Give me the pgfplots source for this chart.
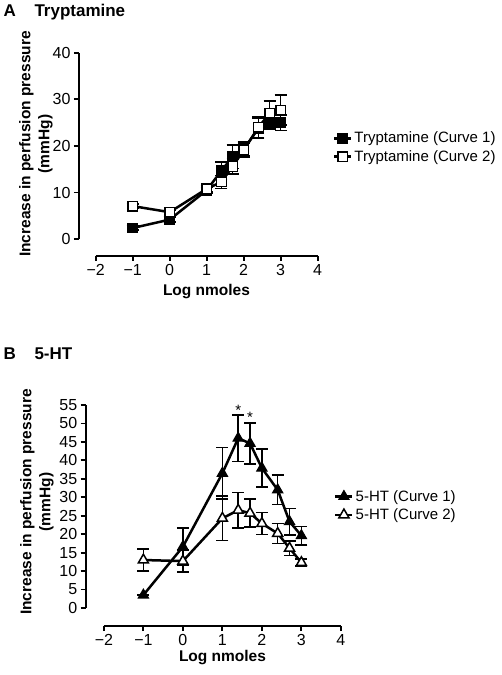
\documentclass[border=0pt]{standalone}
\usepackage{fontspec}
\setmainfont{Liberation Sans}
\usepackage{pgfplots}
\pgfplotsset{compat=1.18}
\begin{document}
\begin{tikzpicture}
\useasboundingbox (0pt,0pt) rectangle (502pt,675pt);
\pgfplotsset{
 gp/.style={
  scale only axis,
  axis x line*=bottom, axis y line*=left,
  tick align=outside,
  major tick length=5pt,
  every tick/.style={black, line width=1.8pt},
  tick label style={font=\fontsize{16}{16}\selectfont},
  /pgf/number format/assume math mode=true,
  xtick={-2,...,4},
  xticklabels={−2,−1,0,1,2,3,4},
  legend style={draw=none, fill=none, font=\fontsize{15}{15}\selectfont, row sep=2pt, anchor=north west},
  legend cell align=left,
  clip=false,
 },
 eb/.style={error bars/.cd, y dir=both, y explicit, error bar style={line width=1.6pt, black}, error mark options={rotate=90, mark size=6pt, line width=1.6pt, black}},
}
\node[anchor=west, font=\bfseries\fontsize{17}{17}\selectfont] at (0pt,663pt) {A\hspace{1.1em}Tryptamine};
\node[anchor=west, font=\bfseries\fontsize{17}{17}\selectfont] at (0pt,321pt) {B\hspace{1.1em}5-HT};
\node[rotate=90, align=center, font=\bfseries\fontsize{15.5}{19}\selectfont] at (36pt,531pt) {Increase in perfusion pressure\\(mmHg)};
\node[rotate=90, align=center, font=\bfseries\fontsize{15.5}{19}\selectfont] at (37pt,173pt) {Increase in perfusion pressure\\(mmHg)};
\node[font=\bfseries\fontsize{15.5}{15.5}\selectfont] at (206.5pt,383pt) {Log nmoles};
\node[font=\bfseries\fontsize{15.5}{15.5}\selectfont] at (222.5pt,17pt) {Log nmoles};

\begin{axis}[gp, at={(79pt,419pt)}, anchor=south west,
  width=238.7pt, height=203.3pt,
  xmin=-2.45, xmax=4, ymin=-3.6, ymax=40,
  ytick={0,10,...,40},
  x axis line style={-, line width=1.8pt, shorten <=16.7pt},
  y axis line style={-, line width=1.8pt, shorten <=16.8pt},
  legend style={at={(1.05,0.63)}},
]
\addplot[black, line width=2.5pt, mark=square*, mark size=4.8pt, mark options={solid, fill=black, line width=1.2pt}, eb]
 table[x=x, y=y, y error=e] {
x y e
-1 2.4 0.4
0 4.2 0.5
1 10.5 0.6
1.4 14.7 1.9
1.7 17.7 2.5
2 19.3 1.5
2.4 23.8 2.2
2.7 24.6 1.0
3 25.0 1.7
};
\addlegendentry{Tryptamine (Curve 1)}
\addplot[black, line width=2.5pt, mark=square*, mark size=4.8pt, mark options={solid, fill=white, line width=1.5pt}, eb]
 table[x=x, y=y, y error=e] {
x y e
-1 7.1 0.4
0 5.8 0.5
1 10.8 0.6
1.4 12.3 1.4
1.7 15.6 1.6
2 19.1 1.5
2.4 24.0 2.2
2.7 27.0 2.7
3 27.7 3.2
};
\addlegendentry{Tryptamine (Curve 2)}
\end{axis}

\begin{axis}[gp, at={(85.7pt,49pt)}, anchor=south west,
  width=255.2pt, height=221pt,
  xmin=-2.46, xmax=4, ymin=-4.88, ymax=55,
  ytick={0,5,...,55},
  x axis line style={-, line width=1.8pt, shorten <=18.2pt},
  y axis line style={-, line width=1.8pt, shorten <=18pt},
  legend style={at={(0.961,0.633)}},
]
\addplot[black, line width=2.5pt, mark=triangle*, mark size=5.8pt, mark options={solid, fill=black, line width=1.2pt}, eb]
 table[x=x, y=y, y error=e] {
x y e
-1 3.5 0
0 16.6 5
1 36.5 7
1.4 46.0 6.3
1.7 44.6 5.6
2 37.9 5.2
2.4 32.0 4
2.7 23.4 3.6
3 19.6 2.5
};
\addlegendentry{5-HT (Curve 1)}
\addplot[black, line width=2.5pt, mark=triangle*, mark size=5.8pt, mark options={solid, fill=white, line width=1.5pt}, eb]
 table[x=x, y=y, y error=e] {
x y e
-1 13.0 3.0
0 12.7 3.0
1 24.3 6.0
1.4 26.5 4.8
1.7 25.7 3.8
2 22.9 3.0
2.4 20.2 2.7
2.7 16.2 2.0
3 12.3 1.0
};
\addlegendentry{5-HT (Curve 2)}
\node[font=\fontsize{15}{15}\selectfont] at (axis cs:1.4,53.6) {*};
\node[font=\fontsize{15}{15}\selectfont] at (axis cs:1.7,51.7) {*};
\end{axis}
\end{tikzpicture}
\end{document}
